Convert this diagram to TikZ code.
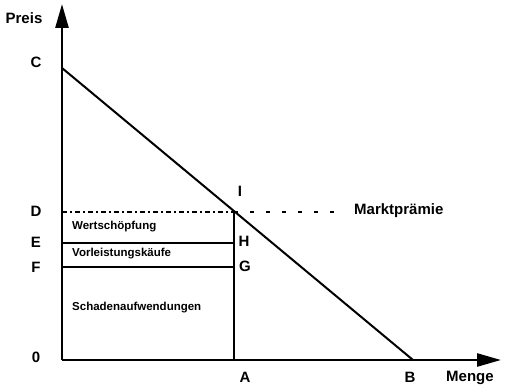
\documentclass[tikz,border=0pt]{standalone}
\usepackage{fontspec}
\setmainfont{Liberation Sans}
\usetikzlibrary{arrows.meta}
\begin{document}
\begin{tikzpicture}[x=1pt,y=-1pt,
  lbl/.style={font=\bfseries\fontsize{15}{15}\selectfont, inner sep=0pt},
  inner/.style={font=\bfseries\fontsize{11.5}{12}\selectfont, inner sep=0pt, anchor=west},
  ln/.style={line width=2pt},
  axis/.style={line width=2.6pt, -{Triangle[length=24pt,width=13pt]}}]
\useasboundingbox (0,0) rectangle (507,385);
\coordinate (O) at (62,360);
\coordinate (Ytip) at (62,4);
\coordinate (Xtip) at (501,360);
\coordinate (Cp) at (62,68);
\coordinate (Bp) at (413,360);
\coordinate (Dp) at (62,212);
\coordinate (Ip) at (234,212);
\coordinate (Ap) at (234,360);
\coordinate (Ep) at (62,243);
\coordinate (Hp) at (234,243);
\coordinate (Fp) at (62,267);
\coordinate (Gp) at (234,267);
\coordinate (Dend) at (340,212);
\draw[axis] (O) -- (Ytip);
\draw[axis] (O) -- (Xtip);
\draw[ln] (Cp) -- (Bp);
\draw[ln] (Ip) -- (Ap);
\draw[ln] (Ep) -- (Hp);
\draw[ln] (Fp) -- (Gp);
\draw[line width=1.4pt, dash pattern=on 5pt off 3pt on 2pt off 3pt] (Dp) -- (Ip);
\draw[line width=1.8pt, dash pattern=on 4pt off 12pt] (Ip) -- (Dend);
\node[lbl] (preis) at (24,18) {Preis};
\node[lbl] (c) at (36,62) {C};
\node[lbl] (d) at (36,211) {D};
\node[lbl] (e) at (36,242) {E};
\node[lbl] (f) at (36,267) {F};
\node[lbl] (zero) at (36,357) {0};
\node[lbl] (i) at (240,191) {I};
\node[lbl] (h) at (244,241) {H};
\node[lbl] (g) at (245,266) {G};
\node[lbl] (a) at (245,377) {A};
\node[lbl] (b) at (410,377) {B};
\node[lbl] (menge) at (470,378) {Menge};
\node[lbl, anchor=west] (markt) at (354,211) {Marktprämie};
\node[inner] (w) at (72,227) {Wertschöpfung};
\node[inner] (v) at (72,254) {Vorleistungskäufe};
\node[inner] (s) at (72,308) {Schadenaufwendungen};
\end{tikzpicture}
\end{document}
